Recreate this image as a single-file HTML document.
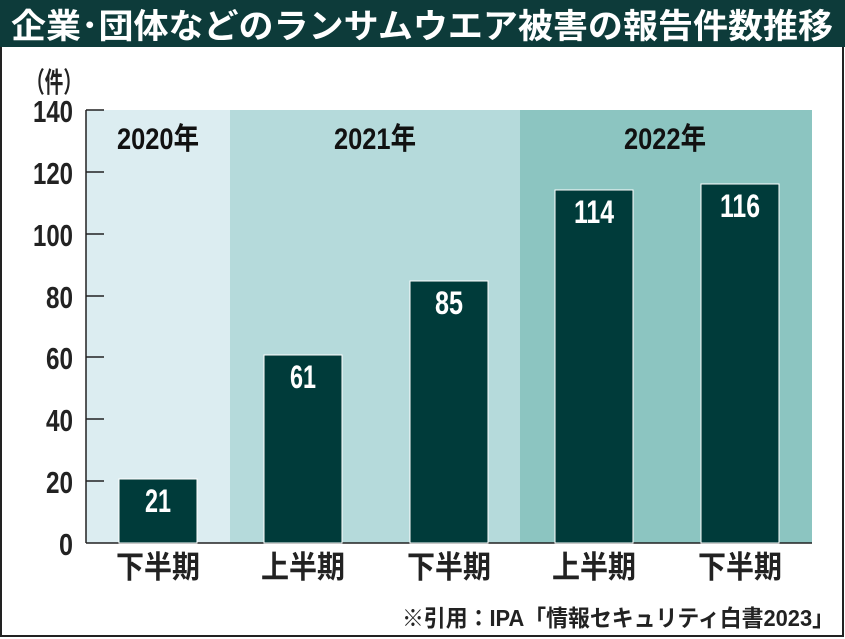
<!DOCTYPE html>
<html><head><meta charset="utf-8"><style>
html,body{margin:0;padding:0;background:#fff;}
svg{display:block;}
text{font-family:"Liberation Sans","Noto Sans CJK JP",sans-serif;font-weight:bold;}
</style></head><body>
<svg width="845" height="639" viewBox="0 0 845 639" xmlns="http://www.w3.org/2000/svg">
<rect x="0" y="0" width="845" height="639" fill="#fff"/>
<rect x="1" y="1" width="842" height="635" fill="none" stroke="#222" stroke-width="2"/>
<rect x="0" y="0" width="845" height="47" fill="#0d3b3a"/>
<text x="11" y="38" font-size="34" fill="#fff" textLength="822" lengthAdjust="spacingAndGlyphs">企業･団体などのランサムウエア被害の報告件数推移</text>
<text x="26" y="92" font-size="28" fill="#222" textLength="56" lengthAdjust="spacingAndGlyphs">（件）</text>
<rect x="86" y="110" width="144" height="433" fill="#dcedf1"/>
<rect x="230" y="110" width="290" height="433" fill="#b5dadb"/>
<rect x="520" y="110" width="292" height="433" fill="#8cc5c1"/>
<g stroke="#222" stroke-width="1.5">
<line x1="86" y1="110" x2="86" y2="543"/>
<line x1="86" y1="543" x2="812" y2="543"/>
<line x1="86" y1="110" x2="104" y2="110"/>
<line x1="86" y1="172" x2="104" y2="172"/>
<line x1="86" y1="234" x2="104" y2="234"/>
<line x1="86" y1="296" x2="104" y2="296"/>
<line x1="86" y1="357" x2="104" y2="357"/>
<line x1="86" y1="419" x2="104" y2="419"/>
<line x1="86" y1="481" x2="104" y2="481"/>
</g>
<g font-size="31" fill="#222" text-anchor="end">
<text x="73" y="122" textLength="40" lengthAdjust="spacingAndGlyphs">140</text>
<text x="73" y="184" textLength="40" lengthAdjust="spacingAndGlyphs">120</text>
<text x="73" y="246" textLength="40" lengthAdjust="spacingAndGlyphs">100</text>
<text x="73" y="308" textLength="27" lengthAdjust="spacingAndGlyphs">80</text>
<text x="73" y="369" textLength="27" lengthAdjust="spacingAndGlyphs">60</text>
<text x="73" y="431" textLength="27" lengthAdjust="spacingAndGlyphs">40</text>
<text x="73" y="493" textLength="27" lengthAdjust="spacingAndGlyphs">20</text>
<text x="73" y="555" textLength="14" lengthAdjust="spacingAndGlyphs">0</text>
</g>
<g font-size="30" fill="#111" text-anchor="middle">
<text x="158" y="149" textLength="82" lengthAdjust="spacingAndGlyphs">2020年</text>
<text x="375" y="149" textLength="82" lengthAdjust="spacingAndGlyphs">2021年</text>
<text x="665" y="149" textLength="82" lengthAdjust="spacingAndGlyphs">2022年</text>
</g>
<g fill="#003b3a" stroke="#fff" stroke-width="1">
<rect x="119" y="479" width="78" height="64"/>
<rect x="264" y="355" width="78" height="188"/>
<rect x="410" y="281" width="78" height="262"/>
<rect x="555" y="190" width="78" height="353"/>
<rect x="701" y="184" width="78" height="359"/>
</g>
<g font-size="32" fill="#fff" text-anchor="middle">
<text x="158" y="512" textLength="26" lengthAdjust="spacingAndGlyphs">21</text>
<text x="303" y="388" textLength="26" lengthAdjust="spacingAndGlyphs">61</text>
<text x="449" y="314" textLength="28" lengthAdjust="spacingAndGlyphs">85</text>
<text x="594" y="223" textLength="40" lengthAdjust="spacingAndGlyphs">114</text>
<text x="740" y="217" textLength="40" lengthAdjust="spacingAndGlyphs">116</text>
</g>
<g font-size="31" fill="#222" text-anchor="middle">
<text x="158" y="578" textLength="84" lengthAdjust="spacingAndGlyphs">下半期</text>
<text x="303" y="578" textLength="84" lengthAdjust="spacingAndGlyphs">上半期</text>
<text x="449" y="578" textLength="84" lengthAdjust="spacingAndGlyphs">下半期</text>
<text x="594" y="578" textLength="84" lengthAdjust="spacingAndGlyphs">上半期</text>
<text x="740" y="578" textLength="84" lengthAdjust="spacingAndGlyphs">下半期</text>
</g>
<text x="834" y="626" font-size="23" fill="#222" text-anchor="end" textLength="432" lengthAdjust="spacingAndGlyphs">※引用：IPA「情報セキュリティ白書2023」</text>
</svg>
</body></html>
